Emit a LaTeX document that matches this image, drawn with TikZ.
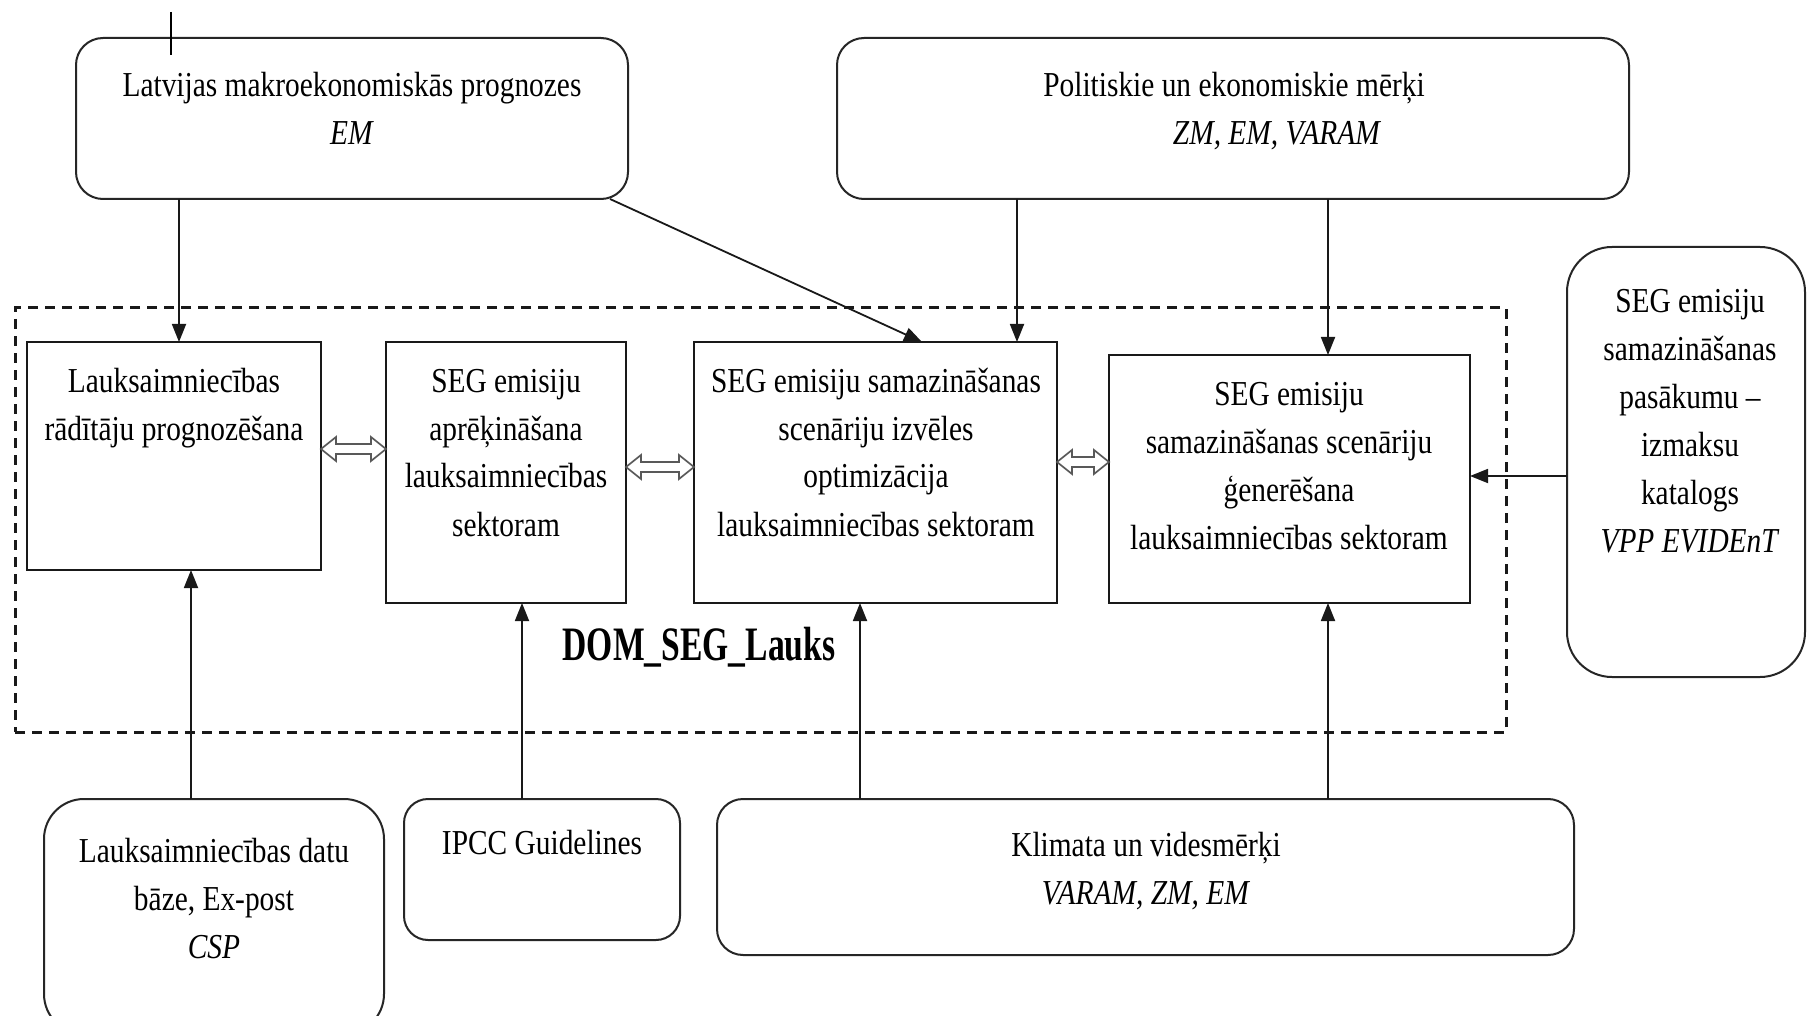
\documentclass[tikz,border=0pt]{standalone}
\usepackage{fontspec}
\setmainfont{Liberation Serif}[FakeStretch=0.84]
\newfontfamily\framelabelfont{Liberation Serif}[FakeStretch=0.7]
\usetikzlibrary{arrows.meta,calc}

% centred lines, anchored at the baseline of the first line
\newcommand\txtlines[1]{\begin{tabular}[t]{@{}c@{}}#1\end{tabular}}

% hollow two-headed block arrow between two boxes at height #3
\newcommand\twoway[3]{%
  \path (#1.east |- 0,#3) coordinate (#1-#2-l) (#2.west |- 0,#3) coordinate (#1-#2-r);
  \draw[dbl] (#1-#2-l) -- ++(15,-12) -- ++(0,7) -- ($(#1-#2-r)+(-15,-5)$)
    -- ++(0,-7) -- (#1-#2-r) -- ++(-15,12) -- ++(0,-7)
    -- ($(#1-#2-l)+(15,5)$) -- ++(0,7) -- cycle;}

\begin{document}
\begin{tikzpicture}[x=1pt,y=-1pt,
  every node/.style={inner sep=0pt, outer sep=0pt},
  txt/.style={font=\fontsize{35}{48}\selectfont, anchor=base, text=black},
  rbox/.style={draw=black!85, line width=2pt, fill=white},
  sbox/.style={draw=black!90, line width=2pt, fill=white},
  frame/.style={draw=black!90, line width=3pt, dash pattern=on 10pt off 7pt},
  conn/.style={draw=black!90, line width=1.8pt, -{Triangle[length=18pt,width=14pt]}},
  dbl/.style={draw=black!65, line width=1.7pt, fill=white, line join=miter}]

\useasboundingbox (0,0) rectangle (1808,1016);
\clip (0,0) rectangle (1808,1016);
\fill[white] (0,0) rectangle (1808,1016);

% model frame
\node[frame, minimum width=1491pt, minimum height=424pt] (dom) at (760.5,520) {};
\node[font=\framelabelfont\bfseries\fontsize{48}{56}\selectfont, anchor=base] (domlabel) at (699,660) {DOM\_SEG\_Lauks};

% input sources
\node[rbox, rounded corners=27pt, minimum width=552pt, minimum height=161pt] (tl) at (352,118.5) {};
\node[rbox, rounded corners=27pt, minimum width=792pt, minimum height=161pt] (tr) at (1233,118.5) {};
\node[rbox, rounded corners=45pt, minimum width=238pt, minimum height=430pt] (cat) at (1686,462) {};
\node[rbox, rounded corners=40pt, minimum width=340pt, minimum height=235pt] (db) at (214,916.5) {};
\node[rbox, rounded corners=24pt, minimum width=276pt, minimum height=141pt] (ipcc) at (542,869.5) {};
\node[rbox, rounded corners=26pt, minimum width=857pt, minimum height=156pt] (klim) at (1145.5,877) {};

% model blocks
\node[sbox, minimum width=294pt, minimum height=228pt] (b1) at (174,456) {};
\node[sbox, minimum width=240pt, minimum height=261pt] (b2) at (506,472.5) {};
\node[sbox, minimum width=363pt, minimum height=261pt] (b3) at (875.5,472.5) {};
\node[sbox, minimum width=361pt, minimum height=248pt] (b4) at (1289.5,479) {};

% texts
\node[txt] (t-tl) at (352,97) {\txtlines{Latvijas makroekonomiskās prognozes\\ \textit{EM}}};
\node[txt] (t-tr) at (1234,97) {\txtlines{Politiskie un ekonomiskie mērķi\\ \hspace*{86pt}\textit{ZM, EM, VARAM}}};
\node[txt] (t-b1) at (174,392) {\txtlines{Lauksaimniecības\\ rādītāju prognozēšana}};
\node[txt] (t-b2) at (506,392) {\txtlines{SEG emisiju\\ aprēķināšana\\ lauksaimniecības\\ sektoram}};
\node[txt] (t-b3) at (876,392) {\txtlines{SEG emisiju samazināšanas\\ scenāriju izvēles\\ optimizācija\\ lauksaimniecības sektoram}};
\node[txt] (t-b4) at (1289,406) {\txtlines{SEG emisiju\\ samazināšanas scenāriju\\ ģenerēšana\\ lauksaimniecības sektoram}};
\node[txt] (t-cat) at (1690,313) {\txtlines{SEG emisiju\\ samazināšanas\\ pasākumu –\\ izmaksu\\ katalogs\\ \textit{VPP EVIDEnT}}};
\node[txt] (t-db) at (214,862) {\txtlines{Lauksaimniecības datu\\ bāze, Ex-post\\ \textit{CSP}}};
\node[txt] (t-ipcc) at (542,854) {IPCC Guidelines};
\node[txt] (t-klim) at (1146,856) {\txtlines{Klimata un videsmērķi\\ \textit{VARAM, ZM, EM}}};

% data flows
\draw[conn] (tl.south -| 179,0) -- (b1.north -| 179,0);
\draw[conn] (tl.south -| 610,0) -- (b3.north -| 922,0);
\draw[conn] (tr.south -| 1017,0) -- (b3.north -| 1017,0);
\draw[conn] (tr.south -| 1328,0) -- (b4.north -| 1328,0);
\draw[conn] (cat.west |- 0,476) -- (b4.east |- 0,476);
\draw[conn] (db.north -| 191,0) -- (b1.south -| 191,0);
\draw[conn] (ipcc.north -| 522,0) -- (b2.south -| 522,0);
\draw[conn] (klim.north -| 860,0) -- (b3.south -| 860,0);
\draw[conn] (klim.north -| 1328,0) -- (b4.south -| 1328,0);

% links between model blocks
\twoway{b1}{b2}{449}
\twoway{b2}{b3}{467}
\twoway{b3}{b4}{462}

% short vertical mark above the first box
\coordinate (mark-top) at (171,12);
\coordinate (mark-bot) at (171,55);
\draw[line width=1.8pt] (mark-top) -- (mark-bot);
\end{tikzpicture}
\end{document}
